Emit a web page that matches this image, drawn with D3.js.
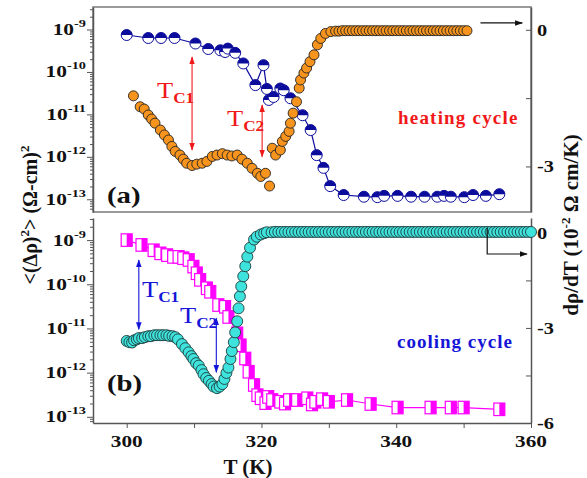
<!DOCTYPE html>
<html><head><meta charset="utf-8">
<script src="https://cdn.jsdelivr.net/npm/d3@7"></script>
<style>body{margin:0;background:#fff}svg{display:block}</style>
</head><body><svg id="c" width="587" height="478"></svg>
<script>
// ---------- DATA ----------
// (a) heating: noise <(Δρ)^2> (log10 of value), left axis
const heatNoiseT=[300.0,303.2,305.1,307.1,310.2,312.1,313.9,314.6,315.0,316.1,317.3,319.1,320.3,320.8,321.1,321.8,322.8,323.3,324.3,326.1,327.3,328.2,329.2,330.2,332.2,335.2,337.2,338.2,340.2,342.2,344.2,346.1,347.1,348.1,350.1,351.4,353.3,355.3];
const heatNoiseExp=[-9.13,-9.20,-9.20,-9.20,-9.33,-9.46,-9.49,-9.53,-9.45,-9.55,-9.80,-10.31,-9.84,-10.40,-10.66,-10.59,-10.39,-10.43,-10.62,-11.02,-11.37,-11.96,-12.26,-12.69,-12.90,-12.94,-12.95,-12.92,-12.92,-12.94,-12.94,-12.94,-12.92,-12.94,-12.95,-12.90,-12.92,-12.88];
// (a) heating: dρ/dT (10^-2 Ω cm/K), right axis
const heatDerivT=[301.0,302.0,302.6,303.2,303.7,304.2,305.0,305.6,306.2,306.7,307.2,307.9,308.4,308.9,309.7,310.4,311.2,311.9,312.7,313.4,314.2,314.9,315.6,316.4,317.1,317.9,318.6,319.4,319.9,320.6,321.2,321.6,322.1,322.8,323.1,323.6,324.1,324.3,324.7,325.2,325.6,325.8,326.3,326.7,327.2,327.8,328.3,328.8,329.5,330.3,
331,331.5,332,332.5,333,333.5,334,334.5,335,335.5,336,336.5,337,337.5,338,338.5,339,339.5,340,340.5,341,341.5,342,342.5,343,343.5,344,344.5,345,345.5,346,346.5,347,347.5,348,348.5,349,349.5,350,350.5];
const heatDeriv=[-1.45,-1.69,-1.74,-1.87,-1.96,-2.05,-2.20,-2.31,-2.42,-2.56,-2.67,-2.75,-2.84,-2.93,-2.98,-2.95,-2.93,-2.89,-2.78,-2.75,-2.72,-2.75,-2.77,-2.75,-2.84,-2.93,-3.04,-3.15,-3.22,-3.15,-3.43,-2.60,-2.75,-2.64,-2.45,-2.34,-2.23,-2.05,-1.83,-1.58,-1.28,-1.10,-0.95,-0.84,-0.70,-0.55,-0.33,-0.19,-0.08,-0.04,
-0.03,-0.03,-0.02,-0.02,-0.02,-0.02,-0.02,-0.02,-0.02,-0.02,-0.02,-0.02,-0.02,-0.02,-0.02,-0.02,-0.02,-0.02,-0.02,-0.02,-0.02,-0.02,-0.02,-0.02,-0.02,-0.02,-0.02,-0.02,-0.02,-0.02,-0.02,-0.02,-0.02,-0.02,-0.02,-0.02,-0.02,-0.02,-0.02,-0.02];
// (b) cooling: noise (log10 of value), left axis
const coolNoiseT=[300.0,302.2,304.0,305.0,306.0,306.9,307.7,308.4,309.2,309.9,310.4,310.9,311.9,312.4,313.6,314.6,315.1,316.4,316.9,317.6,318.1,318.9,319.4,319.9,320.6,321.0,321.6,322.8,323.5,324.1,325.3,326.8,327.5,328.0,329.0,330.0,332.7,336.2,340.2,345.1,348.1,350.0,355.3];
const coolNoiseExp=[-9.00,-9.11,-9.23,-9.30,-9.34,-9.38,-9.38,-9.41,-9.45,-9.60,-9.75,-9.90,-10.09,-10.17,-10.47,-10.51,-10.74,-11.11,-11.38,-11.68,-11.98,-12.28,-12.51,-12.58,-12.69,-12.55,-12.62,-12.66,-12.70,-12.62,-12.62,-12.58,-12.72,-12.66,-12.60,-12.66,-12.62,-12.71,-12.79,-12.79,-12.79,-12.79,-12.83];
// (b) cooling: dρ/dT, right axis
const coolDerivT=[300.0,300.4,300.8,301.1,301.5,301.8,302.3,302.7,303.2,303.6,304.1,304.5,305.0,305.4,305.9,306.3,306.8,307.2,307.6,308.2,308.7,309.2,309.6,309.9,310.3,310.7,311.1,311.4,311.8,312.2,312.6,312.9,313.4,313.8,314.2,314.5,314.8,315.1,315.4,315.6,315.9,316.1,316.4,316.6,316.8,317.0,317.3,317.6,317.9,318.3,318.9,319.3,319.9,320.4,320.8,
321.5,322,322.5,323,323.5,324,324.5,325,325.5,326,326.5,327,327.5,328,328.5,329,329.5,330,330.5,331,331.5,332,332.5,333,333.5,334,334.5,335,335.5,336,336.5,337,337.5,338,338.5,339,339.5,340,340.5,341,341.5,342,342.5,343,343.5,344,344.5,345,345.5,346,346.5,347,347.5,348,348.5,349,349.5,350,350.5,351,351.5,352,352.5,353,353.5,354,354.5,355,355.5,356,356.5,357,357.5,358,358.5,359,359.5,360];
const coolDeriv=[-3.41,-3.45,-3.46,-3.39,-3.36,-3.32,-3.32,-3.29,-3.26,-3.26,-3.23,-3.23,-3.23,-3.23,-3.23,-3.25,-3.26,-3.29,-3.36,-3.51,-3.64,-3.77,-3.89,-3.98,-4.11,-4.19,-4.33,-4.46,-4.58,-4.67,-4.77,-4.85,-4.90,-4.85,-4.77,-4.61,-4.42,-4.25,-3.98,-3.73,-3.45,-3.14,-2.79,-2.38,-2.00,-1.69,-1.37,-1.05,-0.75,-0.47,-0.21,-0.12,-0.05,-0.01,0.02,
0.02,0.03,0.03,0.03,0.03,0.03,0.03,0.03,0.03,0.03,
0.03,0.03,0.03,0.03,0.03,0.03,0.03,0.03,0.03,0.03,
0.03,0.03,0.03,0.03,0.03,0.03,0.03,0.03,0.03,0.03,
0.03,0.03,0.03,0.03,0.03,0.03,0.03,0.03,0.03,0.03,
0.03,0.03,0.03,0.03,0.03,0.03,0.03,0.03,0.03,0.03,
0.03,0.03,0.03,0.03,0.03,0.03,0.03,0.03,0.03,0.03,
0.03,0.03,0.03,0.03,0.03,0.03,0.03,0.03,0.03,0.03,
0.03,0.03,0.03,0.03,0.03,0.03,0.03,0.03];
// ticks
const decades=[-9,-10,-11,-12,-13];
const xTicks=[300,310,320,330,340,350,360];
const xLabels=[300,320,340,360];
const rTicksTop=[0,-1.5,-3], rLabelsTop=[0,-3];
const rTicksBot=[0,-1.5,-3,-4.5,-6], rLabelsBot=[0,-3,-6];

// ---------- LAYOUT ----------
const FONT="'Liberation Serif','Times New Roman',serif";
const svg=d3.select("#c");
const xL=93,xR=531;
const x=d3.scaleLinear().domain([295,360]).range([xL,xR]);
const yTopL=d3.scaleLog().domain([10**-13.3,10**-8.47]).range([212,7]);
const yTopR=d3.scaleLinear().domain([-4,0.5]).range([212,7]);
const yBotL=d3.scaleLog().domain([10**-13.14,10**-8.5]).range([423,218]);
const yBotR=d3.scaleLinear().domain([-6,0.47]).range([423,218]);

const RED="#f01818", BLUE="#1515d8", NAVY="#0c0c9c", ORANGE="#f7941d", CYAN="#3fe3dd", MAG="#ff00ff";

const defs=svg.append("defs");
function marker(id,col){
  defs.append("marker").attr("id",id).attr("viewBox","0 0 10 10").attr("refX",9).attr("refY",5)
   .attr("markerWidth",8).attr("markerHeight",8).attr("markerUnits","userSpaceOnUse").attr("orient","auto-start-reverse")
   .append("path").attr("d","M0,1.5 L10,5 L0,8.5 z").attr("fill",col);
}
marker("ar",RED);marker("ab",BLUE);marker("ak","#111");

function addText(x0,y0,parts,o){
  let tr=`translate(${x0},${y0})`;
  if(o.rot) tr+=` rotate(${o.rot})`;
  if(o.sx) tr+=` scale(${o.sx},1)`;
  const t=svg.append("text").attr("transform",tr).attr("font-family",FONT).attr("font-size",o.size)
    .attr("font-weight",o.weight||"bold").attr("fill",o.fill||"#111").attr("text-anchor",o.anchor||"start");
  if(o.ls) t.attr("letter-spacing",o.ls);
  let prev=0;
  parts.forEach(p=>{
    if(typeof p==="string"){ t.append("tspan").attr("dy",-prev).text(p); prev=0; }
    else { const s=t.append("tspan").attr("dy",p.shift-prev).text(p.t);
      if(p.size) s.attr("font-size",p.size); if(p.weight) s.attr("font-weight",p.weight); prev=p.shift; }
  });
  return t;
}

// ---------- FRAMES / AXES ----------
svg.append("rect").attr("x",xL).attr("y",7).attr("width",xR-xL).attr("height",205)
  .attr("fill","none").attr("stroke","#7a7a7a").attr("stroke-width",1.5);

function styleAxis(g){ g.selectAll(".domain").attr("stroke","#555").attr("stroke-width",1.5);
  g.selectAll(".tick line").attr("stroke","#555").attr("stroke-width",1); }

function leftAxis(y){
  const dom=y.domain();
  const majors=decades.map(d=>10**d);
  const minors=[];
  for(let d=-14;d<=-8;d++) for(let m=2;m<=9;m++){const v=m*10**d; if(v>=dom[0]&&v<=dom[1]) minors.push(v);}
  const g=svg.append("g").attr("transform",`translate(${xL},0)`);
  g.call(d3.axisLeft(y).tickValues(majors).tickSize(6).tickSizeOuter(0).tickFormat(""));
  const g2=svg.append("g").attr("transform",`translate(${xL},0)`);
  g2.call(d3.axisLeft(y).tickValues(minors).tickSize(3).tickSizeOuter(0).tickFormat(""));
  g2.select(".domain").remove();
  styleAxis(g);styleAxis(g2);
  decades.forEach(d=>{
    addText(86,y(10**d)+5.5,["10",{t:"-"+(-d),size:11,shift:-8}],{size:16.5,anchor:"end",sx:1.3});
  });
}
function rightAxis(y,ticks,labels){
  const g=svg.append("g").attr("transform",`translate(${xR},0)`);
  g.call(d3.axisRight(y).tickValues(ticks).tickSize(-5).tickSizeOuter(0).tickFormat(""));
  styleAxis(g);
  labels.forEach(v=>addText(xR+6,y(v)+6,[v===0?"0":String(v)],{size:17,sx:1.2}));
}
leftAxis(yTopL); rightAxis(yTopR,rTicksTop,rLabelsTop);
leftAxis(yBotL); rightAxis(yBotR,rTicksBot,rLabelsBot);

const gx=svg.append("g").attr("transform","translate(0,423)");
gx.call(d3.axisBottom(x).tickValues(xTicks).tickSize(5).tickSizeOuter(0).tickFormat(""));
styleAxis(gx);
xLabels.forEach(v=>addText(x(v),447,[String(v)],{size:17,anchor:"middle",sx:1.25}));

// axis titles
addText(37,215,["<(Δρ)",{t:"2",size:13,shift:-8},"> (Ω-cm)",{t:"2",size:13,shift:-8}],{size:20,anchor:"middle",rot:-90});
addText(578,225,["dρ/dT (10",{t:"-2",size:13,shift:-8}," Ω cm/K)"],{size:21,anchor:"middle",rot:-90});
addText(x(318),474,["T (K)"],{size:21,anchor:"middle"});

// ---------- MARKS ----------
// (a) heating noise: line + half-filled circles
const heatNoise=d3.zip(heatNoiseT,heatNoiseExp);
svg.append("path").datum(heatNoise).attr("fill","none").attr("stroke",NAVY).attr("stroke-width",1.2)
  .attr("d",d3.line().x(d=>x(d[0])).y(d=>yTopL(10**d[1])));
const r1=5.5;
const hn=svg.append("g").selectAll("g").data(heatNoise).join("g")
  .attr("transform",d=>`translate(${x(d[0])},${yTopL(10**d[1])})`);
hn.append("circle").attr("r",r1).attr("fill","#fff").attr("stroke",NAVY).attr("stroke-width",1);
hn.append("path").attr("d",`M${-r1},0 A${r1},${r1} 0 0 1 ${r1},0 Z`).attr("fill",NAVY);

// (a) heating derivative
svg.append("g").selectAll("circle").data(d3.zip(heatDerivT,heatDeriv)).join("circle")
  .attr("cx",d=>x(d[0])).attr("cy",d=>yTopR(d[1])).attr("r",5)
  .attr("fill",ORANGE).attr("stroke","#222").attr("stroke-width",0.9);

// (b) cooling noise: line + half-filled squares
const coolNoise=d3.zip(coolNoiseT,coolNoiseExp);
svg.append("path").datum(coolNoise).attr("fill","none").attr("stroke",MAG).attr("stroke-width",1.2)
  .attr("d",d3.line().x(d=>x(d[0])).y(d=>yBotL(10**d[1])));
const sw=11, sh=12.5;
const cn=svg.append("g").selectAll("g").data(coolNoise).join("g")
  .attr("transform",d=>`translate(${x(d[0])},${yBotL(10**d[1])})`);
cn.append("rect").attr("x",-sw/2).attr("y",-sh/2).attr("width",sw).attr("height",sh).attr("fill","#fff").attr("stroke",MAG).attr("stroke-width",1.2);
cn.append("rect").attr("x",0).attr("y",-sh/2).attr("width",sw/2).attr("height",sh).attr("fill",MAG);

// (b) cooling derivative
svg.append("g").selectAll("circle").data(d3.zip(coolDerivT,coolDeriv)).join("circle")
  .attr("cx",d=>x(d[0])).attr("cy",d=>yBotR(d[1])).attr("r",5.5)
  .attr("fill",CYAN).attr("stroke","#1d3b3b").attr("stroke-width",0.9);

// ---------- ANNOTATIONS ----------
function dArrow(T,y1,y2,id,col){
  svg.append("line").attr("x1",x(T)).attr("x2",x(T)).attr("y1",y1).attr("y2",y2)
    .attr("stroke",col).attr("stroke-width",1.1).attr("marker-start",`url(#${id})`).attr("marker-end",`url(#${id})`);
}
dArrow(309.7,yTopL(10**-9.65),yTopL(10**-11.84),"ar",RED);
dArrow(320.1,yTopL(10**-10.78),yTopL(10**-12.0),"ar",RED);
dArrow(301.8,yBotL(10**-9.45),yBotL(10**-11.02),"ab",BLUE);
dArrow(313.3,yBotL(10**-10.77),yBotL(10**-11.99),"ab",BLUE);

addText(157,98,["T",{t:"C1",size:15,shift:5,weight:"bold"}],{size:23,weight:"normal",fill:RED,sx:1.15});
addText(227,126,["T",{t:"C2",size:15,shift:5,weight:"bold"}],{size:23,weight:"normal",fill:RED,sx:1.15});
addText(142,297,["T",{t:"C1",size:15,shift:5,weight:"bold"}],{size:23,weight:"normal",fill:BLUE,sx:1.15});
addText(180,323,["T",{t:"C2",size:15,shift:5,weight:"bold"}],{size:23,weight:"normal",fill:BLUE,sx:1.15});

addText(398,124,["heating cycle"],{size:19,fill:RED,ls:1.2});
addText(397,348,["cooling cycle"],{size:19,fill:BLUE,ls:1.0});
addText(107,203,["(a)"],{size:24,sx:1.2});
addText(107,391,["(b)"],{size:24,sx:1.2});

svg.append("line").attr("x1",x(352.5)).attr("x2",x(358.7)).attr("y1",yTopR(0.15)).attr("y2",yTopR(0.15))
  .attr("stroke","#111").attr("stroke-width",1.2).attr("marker-end","url(#ak)");
svg.append("path").attr("d",`M${x(353.5)},228 V254 H${x(359.4)}`).attr("fill","none")
  .attr("stroke","#111").attr("stroke-width",1.2).attr("marker-end","url(#ak)");
</script></body></html>
